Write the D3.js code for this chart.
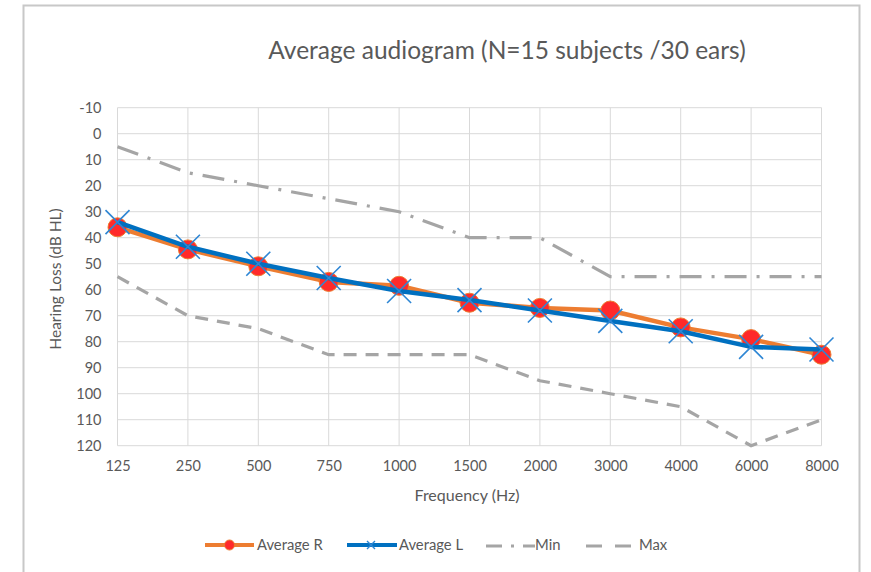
<!DOCTYPE html>
<html><head><meta charset="utf-8">
<script src="https://cdn.jsdelivr.net/npm/d3@7"></script>
<style>body{margin:0;background:#fff}svg{display:block}text{font-family:Lato,"Open Sans",sans-serif}</style>
</head><body><svg id="c" width="871" height="572"></svg>
<script>
const categories = ["125","250","500","750","1000","1500","2000","3000","4000","6000","8000"];
const averageR = [36, 44.5, 51, 57, 58.5, 65, 67, 68, 74.5, 79, 85];
const averageL = [34, 43.5, 50, 55.5, 60.5, 64, 68, 72, 76, 82, 83];
const minVals = [5, 15, 20, 25, 30, 40, 40, 55, 55, 55, 55];
const maxVals = [55, 70, 75, 85, 85, 85, 95, 100, 105, 120, 110];
const yTicks = [-10,0,10,20,30,40,50,60,70,80,90,100,110,120];

const svg = d3.select("#c");
const textCol = "#595959";
svg.append("path").attr("d","M23.5,575 V5.5 H859.5 V575").attr("fill","none").attr("stroke","#c8c8c8").attr("stroke-width",2);

const x = d3.scalePoint().domain(categories).range([117.5, 821.5]);
const y = d3.scaleLinear().domain([-10,120]).range([107.7, 445.7]);

const g = svg.append("g");
g.selectAll("line.h").data(yTicks).join("line")
  .attr("x1",117.5).attr("x2",821.5).attr("y1",d=>y(d)).attr("y2",d=>y(d))
  .attr("stroke","#d9d9d9").attr("stroke-width",1);
g.selectAll("line.v").data(categories).join("line").attr("class","v")
  .attr("x1",d=>x(d)).attr("x2",d=>x(d)).attr("y1",y(-10)).attr("y2",y(120))
  .attr("stroke","#d9d9d9").attr("stroke-width",1);

const ya = svg.append("g").attr("transform","translate(117.5,0)")
  .call(d3.axisLeft(y).tickValues(yTicks).tickFormat(d=>String(d)).tickSize(0).tickPadding(16));
ya.select(".domain").remove();
ya.selectAll("text").attr("fill",textCol).style("font-size","14.5px").style("font-family","Lato, sans-serif");

const xa = svg.append("g").attr("transform","translate(0,"+y(120)+")")
  .call(d3.axisBottom(x).tickSize(0).tickPadding(15));
xa.select(".domain").remove();
xa.selectAll("text").attr("fill",textCol).style("font-size","14.5px").style("font-family","Lato, sans-serif");

svg.append("text").attr("x",507).attr("y",59).attr("text-anchor","middle")
  .attr("fill",textCol).style("font-size","24.5px").text("Average audiogram (N=15 subjects /30 ears)");
svg.append("text").attr("x",467).attr("y",501).attr("text-anchor","middle")
  .attr("fill",textCol).style("font-size","16px").text("Frequency (Hz)");
svg.append("text").attr("transform","translate(61,279) rotate(-90)").attr("text-anchor","middle")
  .attr("fill",textCol).style("font-size","15.5px").text("Hearing Loss (dB HL)");

const line = d3.line().x((d,i)=>x(categories[i])).y(d=>y(d));
const grey = "#a5a5a5";
svg.append("path").datum(minVals).attr("d",line).attr("fill","none").attr("stroke",grey)
  .attr("stroke-width",3.2).attr("stroke-dasharray","22,10,3,10");
svg.append("path").datum(maxVals).attr("d",line).attr("fill","none").attr("stroke",grey)
  .attr("stroke-width",3.2).attr("stroke-dasharray","13,9");

const orange = "#ed7d31", blue = "#0070c0", red = "#ff2a2a", xcol = "#2e86d4";
svg.append("path").datum(averageR).attr("d",line).attr("fill","none").attr("stroke",orange).attr("stroke-width",4.5).attr("stroke-linejoin","round");
svg.selectAll("circle.r").data(averageR).join("circle")
  .attr("cx",(d,i)=>x(categories[i])).attr("cy",d=>y(d)).attr("r",9.5)
  .attr("fill",red).attr("stroke",orange).attr("stroke-width",1);
svg.append("path").datum(averageL).attr("d",line).attr("fill","none").attr("stroke",blue).attr("stroke-width",4.5).attr("stroke-linejoin","round");
const s = 12;
svg.selectAll("path.xm").data(averageL).join("path")
  .attr("d",(d,i)=>{const cx=x(categories[i]), cy=y(d);return `M${cx-s},${cy-s}L${cx+s},${cy+s}M${cx-s},${cy+s}L${cx+s},${cy-s}`;})
  .attr("stroke",xcol).attr("stroke-width",1.6).attr("fill","none");

const ly = 545, fs = "14.8px";
const leg = svg.append("g");
leg.append("line").attr("x1",205).attr("x2",254).attr("y1",ly).attr("y2",ly).attr("stroke",orange).attr("stroke-width",4);
leg.append("circle").attr("cx",229.5).attr("cy",ly).attr("r",5).attr("fill",red).attr("stroke",orange).attr("stroke-width",1);
leg.append("text").attr("x",257).attr("y",ly+5).attr("fill",textCol).style("font-size",fs).text("Average R");
leg.append("line").attr("x1",347).attr("x2",397).attr("y1",ly).attr("y2",ly).attr("stroke",blue).attr("stroke-width",4);
leg.append("path").attr("d",`M367,${ly-4}L375,${ly+4}M367,${ly+4}L375,${ly-4}`).attr("stroke",xcol).attr("stroke-width",1.4);
leg.append("text").attr("x",399).attr("y",ly+5).attr("fill",textCol).style("font-size",fs).text("Average L");
leg.append("line").attr("x1",486).attr("x2",535).attr("y1",ly+1).attr("y2",ly+1).attr("stroke",grey).attr("stroke-width",3.2).attr("stroke-dasharray","16,9,3,9");
leg.append("text").attr("x",535).attr("y",ly+5).attr("fill",textCol).style("font-size",fs).text("Min");
leg.append("line").attr("x1",586).attr("x2",632).attr("y1",ly+1).attr("y2",ly+1).attr("stroke",grey).attr("stroke-width",3.2).attr("stroke-dasharray","16,13");
leg.append("text").attr("x",639).attr("y",ly+5).attr("fill",textCol).style("font-size",fs).text("Max");
</script></body></html>
